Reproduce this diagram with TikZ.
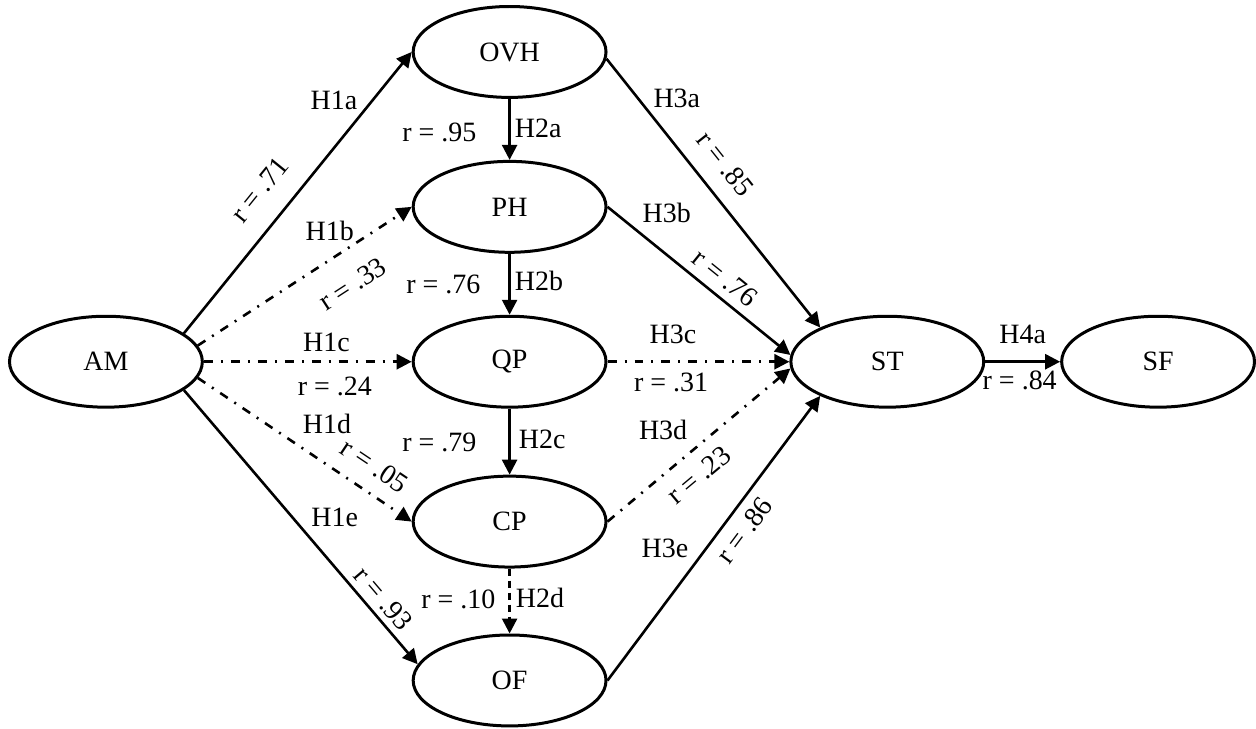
\documentclass[tikz,border=0pt]{standalone}
\usepackage{fontspec}
\setmainfont{Liberation Serif}
\usetikzlibrary{arrows.meta,shapes.geometric}

\begin{document}
\begin{tikzpicture}[x=0.5pt, y=-0.5pt,
  var/.style={ellipse, draw, line width=1.5pt, minimum width=96.5pt, minimum height=45.5pt, inner sep=0pt, font=\fontsize{14}{16}\selectfont},
  link/.style={line width=1.3pt, -{Triangle[length=7.5pt,width=7.5pt]}},
  weaklink/.style={link, dash pattern=on 4.5pt off 4pt on 1pt off 4pt},
  nulllink/.style={link, dash pattern=on 3.5pt off 2.5pt},
  lbl/.style={font=\fontsize{14}{16}\selectfont, inner sep=0pt}]
\node[var] (AM) at (106,362) {AM};
\node[var] (OVH) at (510,52) {OVH};
\node[var] (PH) at (510,207) {PH};
\node[var] (QP) at (510,362) {QP};
\node[var] (CP) at (510,522) {CP};
\node[var] (OF) at (510,681) {OF};
\node[var] (ST) at (888,362) {ST};
\node[var] (SF) at (1159,362) {SF};
\draw[link] (AM.20) -- (OVH.west) node[lbl, pos=.78, above left, inner sep=1.5pt] {H1a} node[lbl, pos=.44, sloped, above, inner sep=10.5pt] {r = .71};
\draw[weaklink] (AM.10) -- (PH.west) node[lbl, pos=.74, above left, inner sep=.5pt] {H1b} node[lbl, pos=.64, sloped, below, inner sep=11pt] {r = .33};
\draw[weaklink] (AM.east) -- (QP.west) node[lbl, pos=.59, above, inner sep=4.5pt] {H1c} node[lbl, pos=.63, below, inner sep=7pt] {r = .24};
\draw[weaklink] (AM.-10) -- (CP.west) node[lbl, pos=.45, above right, inner sep=3.8pt] {H1d} node[lbl, pos=.76, sloped, above, inner sep=7.5pt] {r = .05};
\draw[link] (AM.-20) -- (OF.170) node[lbl, pos=.52, above right, inner sep=2.3pt] {H1e} node[lbl, pos=.8, sloped, above, inner sep=3pt] {r = .93};
\draw[link] (OVH) -- (PH) node[lbl, pos=.48, right, inner sep=2pt] {H2a} node[lbl, pos=.55, left, inner sep=16pt] {r = .95};
\draw[link] (PH) -- (QP) node[lbl, pos=.45, right, inner sep=2pt] {H2b} node[lbl, pos=.5, left, inner sep=14pt] {r = .76};
\draw[link] (QP) -- (CP) node[lbl, pos=.46, right, inner sep=4pt] {H2c} node[lbl, pos=.51, left, inner sep=16pt] {r = .79};
\draw[nulllink] (CP) -- (OF) node[lbl, pos=.45, right, inner sep=2.5pt] {H2d} node[lbl, pos=.48, left, inner sep=6.5pt] {r = .10};
\draw[link] (OVH.-4) -- (ST.153) node[lbl, pos=.2, above right, inner sep=1.5pt] {H3a} node[lbl, pos=.455, sloped, above, inner sep=8.5pt] {r = .85};
\draw[link] (PH.east) -- (ST.176) node[lbl, pos=.155, above right, inner sep=2.7pt] {H3b} node[lbl, pos=.58, sloped, above, inner sep=4pt] {r = .76};
\draw[weaklink] (QP.east) -- (ST.west) node[lbl, pos=.36, above, inner sep=8.5pt] {H3c} node[lbl, pos=.35, below, inner sep=5pt] {r = .31};
\draw[weaklink] (CP.east) -- (ST.184) node[lbl, pos=.48, above left, inner sep=3.4pt] {H3d} node[lbl, pos=.42, sloped, below, inner sep=6.2pt] {r = .23};
\draw[link] (OF.east) -- (ST.207) node[lbl, pos=.41, above left, inner sep=2.6pt] {H3e} node[lbl, pos=.57, sloped, below, inner sep=4.5pt] {r = .86};
\draw[link] (ST) -- (SF) node[lbl, pos=.5, above, inner sep=8.5pt] {H4a} node[lbl, pos=.46, below, inner sep=4pt] {r = .84};
\path (0,0) rectangle (1256,729);
\end{tikzpicture}
\end{document}
